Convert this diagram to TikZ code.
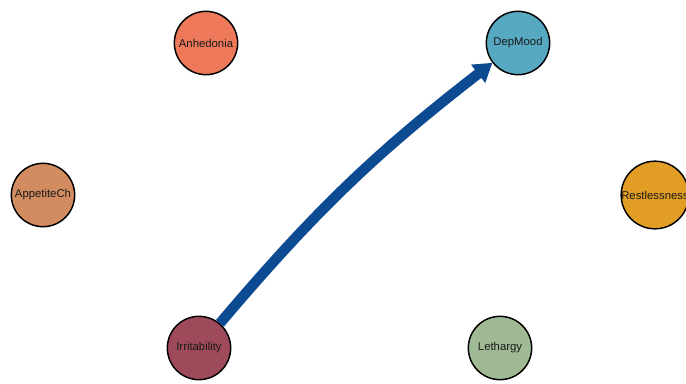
\documentclass[tikz,border=0pt]{standalone}
\usepackage{fontspec}
\setmainfont{Liberation Sans}
\usepackage{tikz}
\usetikzlibrary{arrows.meta,shapes.geometric}
\definecolor{anhcol}{RGB}{238,121,90}
\definecolor{depcol}{RGB}{87,169,194}
\definecolor{appcol}{RGB}{210,140,95}
\definecolor{rescol}{RGB}{226,158,36}
\definecolor{irrcol}{RGB}{158,74,90}
\definecolor{letcol}{RGB}{160,186,150}
\definecolor{edgecol}{RGB}{12,74,146}
\tikzstyle{symptom} = [circle, minimum size=47.5pt, inner sep=0pt, draw=black, line width=1.1pt, text=black!90, font=\fontsize{8.5}{9}\selectfont]
\tikzstyle{edge} = [draw=edgecol, line width=7.8pt, -{Triangle[length=13.5pt,width=16.5pt]}]

\begin{document}
\begin{tikzpicture}[x=0.75pt, y=-0.75pt]
    \useasboundingbox (0,0) rectangle (686,383);
    \node (anh) [symptom, fill=anhcol] at (206,43) {Anhedonia};
    \node (dep) [symptom, fill=depcol] at (518,43) {DepMood};
    \node (app) [symptom, fill=appcol] at (43,195) {AppetiteCh};
    \node (res) [symptom, fill=rescol] at (655,195) {Restlessness};
    \node (irr) [symptom, fill=irrcol] at (199,348) {Irritability};
    \node (let) [symptom, fill=letcol] at (500,348) {Lethargy};

    \draw[edge] (irr) to[bend left=6] (dep);

  \end{tikzpicture}
\end{document}
